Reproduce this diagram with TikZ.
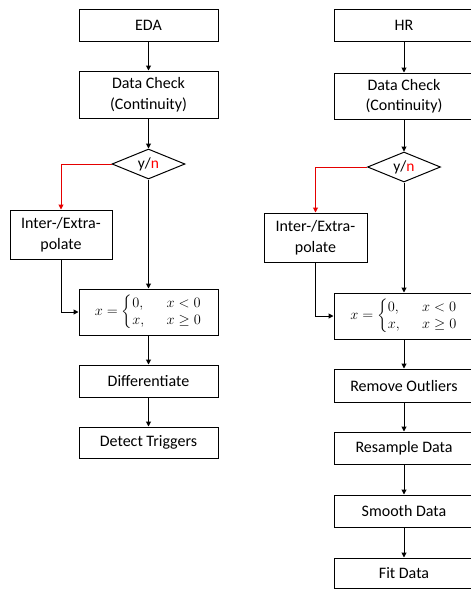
\documentclass[tikz,border=0pt]{standalone}
\usepackage{amsmath,amssymb}
\usepackage{fontspec}
\setmainfont{Carlito}
\usepackage{tikz}
\usetikzlibrary{shapes,shapes.geometric,arrows.meta,positioning,calc}

\begin{document}
\begin{tikzpicture}[
    x=1pt, y=-1pt,
    procbox/.style={rectangle, draw=black, line width=1pt, inner sep=2pt, align=center, font=\fontsize{16}{20.5}\selectfont},
    check/.style={diamond, draw=black, line width=1pt, inner sep=0pt, aspect=2.4, minimum width=73pt, minimum height=30pt, font=\fontsize{15.5}{20}\selectfont},
    flow/.style={-{Triangle[length=5pt,width=5pt]}, line width=1pt, black},
    nflow/.style={-{Triangle[length=5pt,width=5pt]}, line width=1pt, red!90!black},
    rectify/.style={procbox, font=\fontsize{14}{16}\selectfont}
]
    \useasboundingbox (0,0) rectangle (471,590);

    % EDA pipeline (left column)
    \node[procbox, minimum width=139pt, minimum height=32pt] (eda) at (148.5,25) {EDA};
    \node[procbox, minimum width=139pt, minimum height=47pt] (dc1) at (148.5,94.5) {Data Check\\(Continuity)};
    \node[check] (yn1) at (148.5,164) {y/\textcolor{red}{n}};
    \node[procbox, minimum width=102pt, minimum height=49pt] (ip1) at (61,234.5) {Inter-/Extra-\\polate};
    \node[rectify, minimum width=139pt, minimum height=46pt] (cl1) at (148.5,312)
        {$x=\begin{cases}0, & \hspace{0.6em} x<0\\[-2pt] x, & \hspace{0.6em} x\geq 0\end{cases}$};
    \node[procbox, minimum width=139pt, minimum height=32pt] (dif) at (148.5,381) {Differentiate};
    \node[procbox, minimum width=139pt, minimum height=31pt] (trg) at (148.5,442.5) {Detect Triggers};

    \draw[flow] (eda) -- (dc1);
    \draw[flow] (dc1) -- (yn1);
    \draw[nflow] (yn1.west) -| (ip1.north);
    \draw[flow] (yn1.south) -- (cl1.north);
    \draw[flow] (ip1.south) |- (cl1.west);
    \draw[flow] (cl1) -- (dif);
    \draw[flow] (dif) -- (trg);

    % HR pipeline (right column)
    \node[procbox, minimum width=140pt, minimum height=32pt] (hr) at (404,25) {HR};
    \node[procbox, minimum width=140pt, minimum height=46pt] (dc2) at (404,96) {Data Check\\(Continuity)};
    \node[check] (yn2) at (404,167) {y/\textcolor{red}{n}};
    \node[procbox, minimum width=103pt, minimum height=49pt] (ip2) at (315.5,237.5) {Inter-/Extra-\\polate};
    \node[rectify, minimum width=140pt, minimum height=46pt] (cl2) at (404,316)
        {$x=\begin{cases}0, & \hspace{0.6em} x<0\\[-2pt] x, & \hspace{0.6em} x\geq 0\end{cases}$};
    \node[procbox, minimum width=140pt, minimum height=33pt] (rem) at (404,385.5) {Remove Outliers};
    \node[procbox, minimum width=140pt, minimum height=32pt] (rsm) at (404,448) {Resample Data};
    \node[procbox, minimum width=140pt, minimum height=32pt] (smo) at (404,511) {Smooth Data};
    \node[procbox, minimum width=140pt, minimum height=30pt] (fit) at (404,573) {Fit Data};

    \draw[flow] (hr) -- (dc2);
    \draw[flow] (dc2) -- (yn2);
    \draw[nflow] (yn2.west) -| (ip2.north);
    \draw[flow] (yn2.south) -- (cl2.north);
    \draw[flow] (ip2.south) |- (cl2.west);
    \draw[flow] (cl2) -- (rem);
    \draw[flow] (rem) -- (rsm);
    \draw[flow] (rsm) -- (smo);
    \draw[flow] (smo) -- (fit);
\end{tikzpicture}
\end{document}
